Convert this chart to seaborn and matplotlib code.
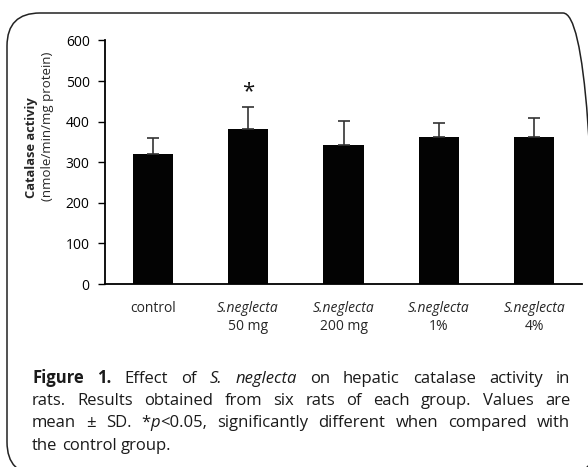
import numpy as np
import pandas as pd
import matplotlib
matplotlib.use("Agg")
import matplotlib.pyplot as plt
import seaborn as sns
from matplotlib.patches import FancyBboxPatch

# catalase activity, mean +/- SD (six rats per group)
groups = ["control", "S.neglecta 50 mg", "S.neglecta 200 mg", "S.neglecta 1%", "S.neglecta 4%"]
label_top = ["control", "S.neglecta", "S.neglecta", "S.neglecta", "S.neglecta"]
label_bottom = ["", "50 mg", "200 mg", "1%", "4%"]
means = [320, 383, 342, 361, 361]
sds = [40, 54, 60, 36, 49]
signif = ["", "*", "", "", ""]

yticks = [0, 100, 200, 300, 400, 500, 600]

sns.set_style("white")
plt.rcParams["font.family"] = ["Open Sans", "DejaVu Sans"]

W, H = 588, 467
fig = plt.figure(figsize=(W / 100, H / 100), dpi=100)
ax = fig.add_axes([105 / W, 1 - 284 / H, (582 - 105) / W, (284 - 40.5) / H])

df = pd.DataFrame({"group": groups, "mean": means})
sns.barplot(data=df, x="group", y="mean", color="#030303", width=0.42,
            saturation=1, linewidth=0, ax=ax)
x = np.arange(len(groups))
ax.errorbar(x, means, yerr=[np.zeros(len(sds)), sds], fmt="none",
            ecolor="#333333", elinewidth=1.2, capsize=4, capthick=1.2)

for i, s in enumerate(signif):
    if s:
        ax.annotate(s, xy=(i, means[i] + sds[i]), xytext=(0, 15), textcoords="offset pixels",
                    ha="center", va="center", fontsize=16, color="#111111")

ax.set_ylim(0, 600)
ax.set_xlim(-0.5, len(groups) - 0.5)
ax.set_yticks(yticks)
ax.set_yticklabels([str(t) for t in yticks], fontsize=10)
ax.set_xticks(x)
ax.set_xticklabels([""] * len(groups))
ax.tick_params(axis="y", length=5, width=1, pad=6, left=True, colors="black")
ax.tick_params(axis="x", length=0)
ax.set_xlabel("")
ax.set_ylabel("")
sns.despine(ax=ax)
for sp in ["left", "bottom"]:
    ax.spines[sp].set_linewidth(1.3)
    ax.spines[sp].set_color("black")

for i in range(len(groups)):
    style = "normal" if label_top[i] == "control" else "italic"
    ax.annotate(label_top[i], xy=(i, 0), xycoords=("data", "axes fraction"),
                xytext=(0, -24), textcoords="offset pixels", ha="center", va="center",
                fontsize=10, fontstyle=style)
    ax.annotate(label_bottom[i], xy=(i, 0), xycoords=("data", "axes fraction"),
                xytext=(0, -43), textcoords="offset pixels", ha="center", va="center",
                fontsize=10)

fig.text(31 / W, 1 - 147.5 / H, "Catalase activiy", rotation=90, ha="center", va="center",
         fontsize=9.3, fontweight="bold")
fig.text(48 / W, 1 - 126 / H, "(nmole/min/mg protein)", rotation=90, ha="center", va="center",
         fontsize=9.5)

# caption, justified by hand
cap_lines = [
    [[("Figure", "bold", "normal")], [("1.", "bold", "normal")], [("Effect", "normal", "normal")],
     [("of", "normal", "normal")], [("S.", "normal", "italic")], [("neglecta", "normal", "italic")],
     [("on", "normal", "normal")], [("hepatic", "normal", "normal")], [("catalase", "normal", "normal")],
     [("activity", "normal", "normal")], [("in", "normal", "normal")]],
    [[(w, "normal", "normal")] for w in "rats. Results obtained from six rats of each group. Values are".split()],
    [[(w, "normal", "normal")] for w in "mean ± SD.".split()]
    + [[("*", "normal", "normal"), ("p", "normal", "italic"), ("<0.05,", "normal", "normal")]]
    + [[(w, "normal", "normal")] for w in "significantly different when compared with".split()],
    [[(w, "normal", "normal")] for w in "the control group.".split()],
]
baselines = [383, 405, 427, 450]
cap_x0, cap_x1 = 32, 570
cap_size = 12

r = fig.canvas.get_renderer()


def text_w(s, wt, st):
    t = fig.text(0, 0, s, fontsize=cap_size, fontweight=wt, fontstyle=st)
    w = t.get_window_extent(r).width
    t.remove()
    return w


space_w = text_w("a a", "normal", "normal") - text_w("aa", "normal", "normal")

for li, words in enumerate(cap_lines):
    ww = [sum(text_w(s, wt, st) for s, wt, st in word) for word in words]
    if li < len(cap_lines) - 1:
        gap = (cap_x1 - cap_x0 - sum(ww)) / (len(words) - 1)
    else:
        gap = space_w
    xp = cap_x0
    for word, w in zip(words, ww):
        xr = xp
        for s, wt, st in word:
            fig.text(xr / W, 1 - baselines[li] / H, s, fontsize=cap_size, fontweight=wt,
                     fontstyle=st, ha="left", va="baseline", color="#1a1a1a")
            xr += text_w(s, wt, st)
        xp += w + gap

# rounded frame around the figure panel
frame = FancyBboxPatch((0.07, -0.08), 5.89, 4.62, boxstyle="round,pad=0,rounding_size=0.33",
                       transform=fig.dpi_scale_trans, fill=False, edgecolor="#222222", linewidth=1.1)
fig.add_artist(frame)

fig.savefig("out.png", dpi=100)
